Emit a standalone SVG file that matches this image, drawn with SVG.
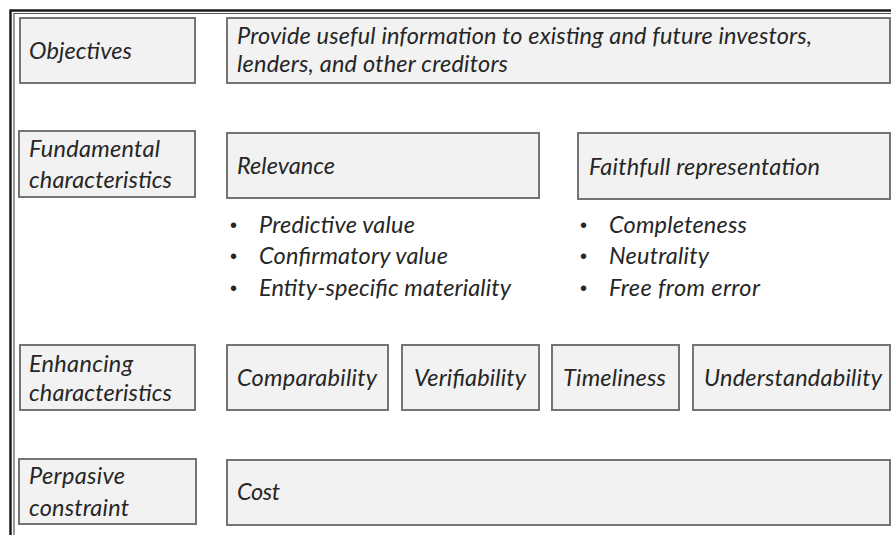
<svg xmlns="http://www.w3.org/2000/svg" width="891" height="535" viewBox="0 0 891 535">
  <style>
    .box { fill: #f2f2f2; stroke: #747474; stroke-width: 2; }
    .t { font-family: Lato, "Liberation Sans", sans-serif; font-style: italic; font-size: 23.5px; fill: #262626; }
    .dot { font-family: "Liberation Sans", sans-serif; font-size: 20px; fill: #262626; }
    .frame { fill: none; stroke: #1c1c1c; stroke-width: 2.5; }
    .frame2 { fill: none; stroke: #555; stroke-width: 1.2; }
  </style>
  <rect width="891" height="535" fill="#ffffff"/>

  <!-- outer frame (double rule on left and top) -->
  <g id="frame">
    <path class="frame" d="M10.5 535 V10.5 H891"/>
    <path class="frame2" d="M14 535 V13.5 H891"/>
  </g>

  <!-- row 1: objectives -->
  <g id="objectives-label">
    <rect class="box" x="20" y="18" width="175" height="65"/>
    <text class="t" x="29" y="59" textLength="103">Objectives</text>
  </g>
  <g id="objectives">
    <rect class="box" x="227" y="18" width="663" height="65"/>
    <text class="t" x="237" y="44" textLength="575">Provide useful information to existing and future investors,</text>
    <text class="t" x="237" y="72" textLength="271">lenders, and other creditors</text>
  </g>

  <!-- row 2: fundamental characteristics -->
  <g id="fundamental-label">
    <rect class="box" x="19" y="131" width="176" height="66"/>
    <text class="t" x="29" y="157" textLength="131">Fundamental</text>
    <text class="t" x="29" y="188" textLength="143">characteristics</text>
  </g>
  <g id="relevance">
    <rect class="box" x="227" y="133" width="312" height="65"/>
    <text class="t" x="237" y="174" textLength="98">Relevance</text>
  </g>
  <g id="faithful-representation">
    <rect class="box" x="578" y="133" width="312" height="66"/>
    <text class="t" x="589" y="175" textLength="231">Faithfull representation</text>
  </g>
  <g id="relevance-points">
    <text class="dot" x="230" y="232">•</text>
    <text class="t" x="259" y="233" textLength="156">Predictive value</text>
    <text class="dot" x="230" y="263">•</text>
    <text class="t" x="259" y="264" textLength="189">Confirmatory value</text>
    <text class="dot" x="230" y="295">•</text>
    <text class="t" x="259" y="296" textLength="252">Entity-specific materiality</text>
  </g>
  <g id="faithful-points">
    <text class="dot" x="580" y="232">•</text>
    <text class="t" x="609" y="233" textLength="138">Completeness</text>
    <text class="dot" x="580" y="263">•</text>
    <text class="t" x="609" y="264" textLength="100">Neutrality</text>
    <text class="dot" x="580" y="295">•</text>
    <text class="t" x="609" y="296" textLength="151">Free from error</text>
  </g>

  <!-- row 3: enhancing characteristics -->
  <g id="enhancing-label">
    <rect class="box" x="20" y="345" width="175" height="65"/>
    <text class="t" x="29" y="372" textLength="104">Enhancing</text>
    <text class="t" x="29" y="401" textLength="143">characteristics</text>
  </g>
  <g id="comparability">
    <rect class="box" x="227" y="345" width="161" height="65"/>
    <text class="t" x="237" y="386" textLength="140">Comparability</text>
  </g>
  <g id="verifiability">
    <rect class="box" x="402" y="345" width="137" height="65"/>
    <text class="t" x="414" y="386" textLength="112">Verifiability</text>
  </g>
  <g id="timeliness">
    <rect class="box" x="552" y="345" width="127" height="65"/>
    <text class="t" x="563" y="386" textLength="103">Timeliness</text>
  </g>
  <g id="understandability">
    <rect class="box" x="693" y="345" width="197" height="65"/>
    <text class="t" x="704" y="386" textLength="178">Understandability</text>
  </g>

  <!-- row 4: pervasive constraint -->
  <g id="constraint-label">
    <rect class="box" x="19" y="459" width="177" height="65"/>
    <text class="t" x="29" y="484" textLength="96">Perpasive</text>
    <text class="t" x="29" y="516" textLength="100">constraint</text>
  </g>
  <g id="cost">
    <rect class="box" x="227" y="460" width="663" height="65"/>
    <text class="t" x="237" y="500" textLength="43">Cost</text>
  </g>
</svg>
